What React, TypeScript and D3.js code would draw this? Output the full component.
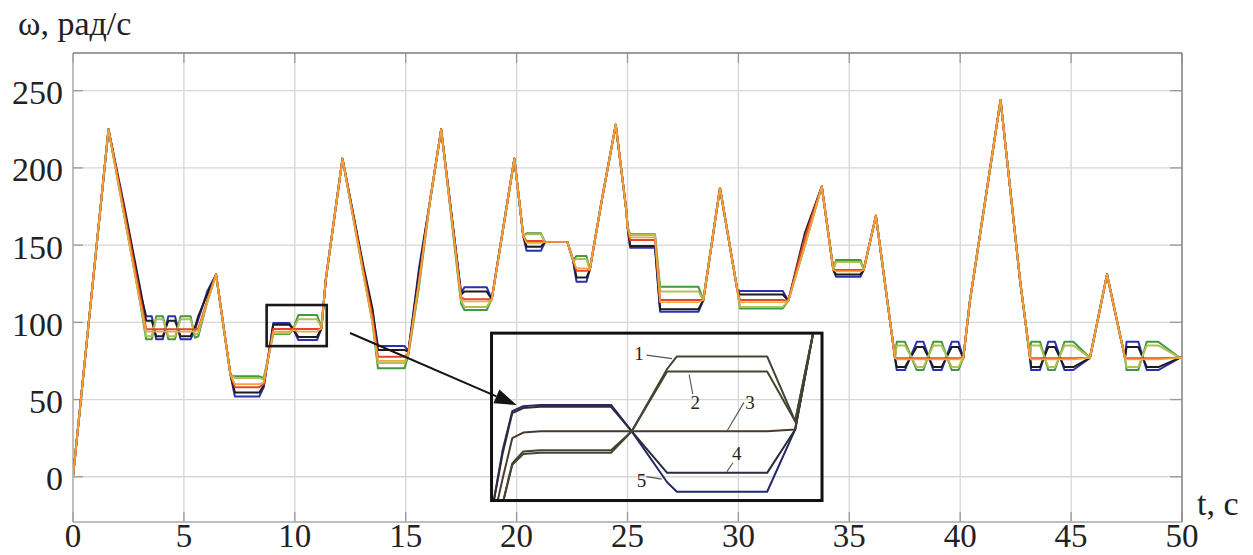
import * as d3 from 'd3';

// time points shared by all series, s
const T = [
  0, 1.6, 2.3, 3.0,
  3.3, 3.55, 3.75, 4.05, 4.3, 4.6, 4.85, 5.3, 5.5, 5.65, 6.05, 6.45,
  7.1, 7.3, 8.4, 8.6, 9.03, 9.75, 9.93, 10.16, 11.0, 11.2, 11.4, 12.15,
  13.1, 13.5, 13.75, 14.95, 15.12, 15.6, 16.1, 16.6, 17.5, 17.65, 18.65, 18.88, 19.9,
  20.3, 20.45, 21.1, 21.28, 22.29, 22.55, 22.7, 23.15, 23.3, 23.84, 24.47, 24.95,
  25.0, 25.12, 26.24, 26.47, 28.2, 28.42, 29.17, 29.95, 30.07, 32.0, 32.25, 33.0, 33.76,
  34.28, 34.4, 35.5, 35.65, 36.2, 37.06,
  37.14, 37.51, 38.04, 38.34, 38.79, 39.16, 39.62, 39.92, 40.14,
  40.44, 41.82, 42.7, 43.15, 43.2, 43.6, 43.97, 44.27, 44.7, 45.1, 45.85, 46.62, 47.43,
  47.5, 48.03, 48.41, 48.93, 49.9, 50,
];

// ω, rad/s — curve 1 (green)
const GREEN = [
  0, 225, 170, 115,
  89, 89, 104, 104, 89, 89, 104, 104, 90, 91, 113, 131,
  66, 65, 65, 64, 92.4, 92.4, 95.6, 104.7, 104.7, 97, 128, 206,
  131, 100, 70.2, 70.2, 79, 123, 179, 225, 112, 108, 108, 115, 206,
  156, 157.6, 157.6, 152, 152, 140, 143, 143, 134, 179, 228, 172,
  162, 157, 157, 123, 123, 114.4, 187, 121, 109, 109, 114, 150, 188,
  134, 140.4, 140.4, 134, 169, 77,
  87.4, 87.4, 69.1, 69.1, 87.4, 87.4, 69.1, 69.1, 77,
  114, 244, 127, 77, 87.4, 87.4, 69.1, 69.1, 87.4, 87.4, 77, 131, 77,
  69.1, 69.1, 87.4, 87.4, 77, 77,
];

// curve 2 (olive)
const OLIVE = [
  0, 225, 170, 116,
  91, 91, 102, 102, 91, 91, 102, 102, 92, 93, 113, 131,
  66, 64, 64, 63, 93, 93, 95.6, 102, 102, 97, 128, 206,
  131, 101, 73.6, 73.6, 79, 125, 179, 225, 114, 110, 110, 115, 206,
  156, 157, 157, 152, 152, 140, 141, 141, 134, 179, 228, 172,
  162, 156.5, 156.5, 120, 120, 114.4, 187, 121, 110, 110, 114, 150, 188,
  134, 139, 139, 134, 169, 77,
  85, 85, 71, 71, 85, 85, 71, 71, 77,
  114, 244, 127, 77, 85, 85, 71, 71, 85, 85, 77, 131, 77,
  71, 71, 85, 85, 77, 77,
];

// curve 3 (red)
const RED = [
  0, 225, 173, 119,
  95.5, 95.5, 95.5, 95.5, 95.5, 95.5, 95.5, 95.5, 95.5, 96, 114, 131,
  66, 58, 58, 60, 95.6, 95.6, 95.6, 95.6, 95.6, 96, 128, 206,
  133, 104, 77.7, 77.7, 80, 127, 179, 225, 116, 115, 115, 115, 206,
  156, 152.7, 152.7, 152, 152, 140, 133.4, 133.4, 134, 179, 228, 172,
  162, 153.3, 153.3, 114.4, 114.4, 114.4, 187, 121, 114.4, 114.4, 114, 155, 188,
  134, 133.9, 133.9, 134, 169, 77,
  76.7, 76.7, 76.7, 76.7, 76.7, 76.7, 76.7, 76.7, 77,
  114, 244, 127, 77, 76.7, 76.7, 76.7, 76.7, 76.7, 76.7, 77, 131, 77,
  76.7, 76.7, 76.7, 76.7, 77, 77,
];

// curve 4 (black)
const BLACK = [
  0, 225, 176, 124,
  101, 101, 91, 91, 101, 101, 91, 91, 97, 104, 118, 131,
  66, 54.5, 54.5, 59, 98.5, 98.5, 95.6, 90.5, 90.5, 96, 128, 206,
  136, 109, 82, 82, 81, 132, 179, 225, 118, 120, 120, 115, 206,
  156, 149, 149, 152, 152, 140, 129, 129, 134, 179, 228, 172,
  162, 149.5, 149.5, 108.5, 108.5, 114.4, 187, 121, 118, 118, 114, 158, 188,
  134, 131, 131, 134, 169, 77,
  71, 71, 84, 84, 71, 71, 84, 84, 77,
  114, 244, 127, 77, 71, 71, 84, 84, 71, 71, 77, 131, 77,
  84, 84, 71, 71, 77, 77,
];

// curve 5 (blue)
const BLUE = [
  0, 225, 172, 121,
  104, 104, 89, 89, 104, 104, 89, 89, 95, 102, 120, 131,
  66, 52, 52, 58, 99.5, 99.5, 95.6, 88.5, 88.5, 96, 128, 206,
  134, 107, 84.6, 84.6, 81, 135, 179, 225, 119, 122.7, 122.7, 115, 206,
  156, 146.4, 146.4, 152, 152, 140, 126.3, 126.3, 134, 179, 228, 172,
  162, 148.3, 148.3, 106.9, 106.9, 114.4, 187, 121, 120.3, 120.3, 114, 153, 188,
  134, 129.5, 129.5, 134, 169, 77,
  69.1, 69.1, 87.4, 87.4, 69.1, 69.1, 87.4, 87.4, 77,
  114, 244, 127, 77, 69.1, 69.1, 87.4, 87.4, 69.1, 69.1, 77, 131, 77,
  87.4, 87.4, 69.1, 69.1, 77, 77,
];

// reference speed (orange)
const REF = [
  0, 225, 170, 115,
  94, 94, 94, 94, 94, 94, 94, 94, 94, 95, 113, 131,
  66, 60, 60, 61, 94, 94, 95, 94, 94, 96, 128, 206,
  131, 100, 75, 75, 80, 126, 179, 225, 115, 113.5, 113.5, 114.5, 206,
  156, 151.5, 151.5, 152, 152, 140, 135, 135, 134, 179, 228, 172,
  162, 155, 155, 113, 113, 114.4, 187, 121, 113, 113, 114, 150, 188,
  134, 133, 133, 134, 169, 77,
  76, 76, 76, 76, 76, 76, 76, 76, 77,
  114, 244, 127, 77, 76, 76, 76, 76, 76, 76, 77, 131, 77,
  76, 76, 76, 76, 77, 77,
];

// zoomed fragment (inset), same units
const ZOOM_T = [8.73, 11.44];
const ZOOM_W = [84.6, 111.2];
const INSET_T = [8.75, 8.82, 8.9, 8.99, 9.13, 9.71, 9.88, 10.17, 10.25, 10.99, 11.22, 11.37];
const INSET_1 = [80, 84, 90.5, 92.4, 92.6, 92.6, 95.6, 105.5, 107.5, 107.5, 97.2, 111.5];
const INSET_2 = [80, 84, 90.3, 92.0, 92.2, 92.2, 95.6, 105.1, 105.1, 105.1, 97.2, 111.5];
const INSET_3 = [82, 88, 94.5, 95.4, 95.6, 95.6, 95.6, 95.6, 95.6, 95.6, 95.9, 111.5];
const INSET_4 = [84.7, 92, 98.5, 99.3, 99.5, 99.5, 95.6, 89, 89, 89, 95.9, 111.5];
const INSET_5 = [84.7, 92.5, 98.8, 99.6, 99.8, 99.8, 95.6, 87.5, 86, 86, 95.9, 111.5];

const LABELS = ['1', '2', '3', '4', '5'];
const LABEL_T = [9.94, 10.4, 10.85, 10.74, 9.96];
const LABEL_W = [107.0, 99.1, 99.1, 91.1, 86.8];
const LEADER_T0 = [10.0, 10.35, 10.8, 10.71, 10.0];
const LEADER_W0 = [107.7, 104.6, 100.2, 90.6, 88.4];
const LEADER_T1 = [10.21, 10.38, 10.66, 10.66, 10.125];
const LEADER_W1 = [107.15, 101.5, 95.6, 89.2, 88.0];

const X_TICKS = [0, 5, 10, 15, 20, 25, 30, 35, 40, 45, 50];
const Y_TICKS = [0, 50, 100, 150, 200, 250];

const W = 1253;
const H = 555;
const left = 73, right = 1182, top = 53, bottom = 522;
const serif = "'Liberation Serif', 'DejaVu Serif', serif";

export default function App() {
  const x = d3.scaleLinear().domain([0, 50]).range([left, right]);
  const y = d3.scaleLinear().domain([-29.3, 274.4]).range([bottom, top]);

  const line = d3.line<number>()
    .x((_, i) => x(T[i]))
    .y(d => y(d));

  const series = [
    { key: 'blue', values: BLUE, color: '#2c2fb0' },
    { key: 'black', values: BLACK, color: '#1c1c1c' },
    { key: 'green', values: GREEN, color: '#3f9a3c' },
    { key: 'olive', values: OLIVE, color: '#b2bf52' },
    { key: 'red', values: RED, color: '#e8432c' },
    { key: 'ref', values: REF, color: '#f2a53a' },
  ];

  // inset placement in main-chart units
  const ix = d3.scaleLinear().domain(ZOOM_T).range([x(18.87), x(33.77)]);
  const iy = d3.scaleLinear().domain(ZOOM_W).range([y(-15.4), y(93.0)]);
  const iline = d3.line<number>()
    .x((_, i) => ix(INSET_T[i]))
    .y(d => iy(d));
  const inset = [
    { key: 'i5', values: INSET_5, color: '#26286a' },
    { key: 'i4', values: INSET_4, color: '#2c2c3a' },
    { key: 'i3', values: INSET_3, color: '#4a3a2c' },
    { key: 'i2', values: INSET_2, color: '#3e4a2c' },
    { key: 'i1', values: INSET_1, color: '#444436' },
  ];

  // arrow from zoom box to inset
  const ax0 = x(12.49), ay0 = y(93.1), ax1 = x(20.0), ay1 = y(46.4);
  const ang = Math.atan2(ay1 - ay0, ax1 - ax0);
  const hl = 22, hw = 7.5;
  const bx = ax1 - hl * Math.cos(ang), by = ay1 - hl * Math.sin(ang);
  const head = [
    [ax1, ay1],
    [bx + hw * Math.sin(ang), by - hw * Math.cos(ang)],
    [bx - hw * Math.sin(ang), by + hw * Math.cos(ang)],
  ].map(p => p.join(',')).join(' ');

  const txt = { fontFamily: serif, fill: '#222' };

  return (
    <svg width={W} height={H} style={{ position: 'absolute', left: 0, top: 0, background: '#fff' }}>
      <defs>
        <clipPath id="plot">
          <rect x={left} y={top} width={right - left} height={bottom - top} />
        </clipPath>
        <clipPath id="inset">
          <rect x={ix(ZOOM_T[0])} y={iy(ZOOM_W[1])} width={ix(ZOOM_T[1]) - ix(ZOOM_T[0])} height={iy(ZOOM_W[0]) - iy(ZOOM_W[1])} />
        </clipPath>
      </defs>

      {/* grid */}
      {X_TICKS.map(t => (
        <line key={'gx' + t} x1={x(t)} x2={x(t)} y1={top} y2={bottom} stroke="#d6d6d6" strokeWidth={1.3} />
      ))}
      {Y_TICKS.map(v => (
        <line key={'gy' + v} x1={left} x2={right} y1={y(v)} y2={y(v)} stroke="#d6d6d6" strokeWidth={1.3} />
      ))}
      {/* inward ticks */}
      {Y_TICKS.map(v => (
        <g key={'ty' + v} stroke="#9a9a9a" strokeWidth={1.3}>
          <line x1={left} x2={left + 10} y1={y(v)} y2={y(v)} />
          <line x1={right - 12} x2={right} y1={y(v)} y2={y(v)} />
        </g>
      ))}
      {X_TICKS.map(t => (
        <g key={'tx' + t} stroke="#9a9a9a" strokeWidth={1.3}>
          <line x1={x(t)} x2={x(t)} y1={top} y2={top + 10} />
          <line x1={x(t)} x2={x(t)} y1={bottom - 10} y2={bottom} />
        </g>
      ))}
      <line x1={left} x2={right} y1={top} y2={top} stroke="#7c7c7c" strokeWidth={1.5} />
      <line x1={right} x2={right} y1={top} y2={bottom} stroke="#8a8a8a" strokeWidth={1.5} />
      <line x1={left} x2={left} y1={top} y2={bottom} stroke="#a8a8a8" strokeWidth={1.3} />
      <line x1={left} x2={right} y1={bottom} y2={bottom} stroke="#a8a8a8" strokeWidth={1.3} />

      {/* curves */}
      <g clipPath="url(#plot)" fill="none" strokeLinejoin="round">
        {series.map(s => (
          <path key={s.key} d={line(s.values) || ''} stroke={s.color} strokeWidth={s.key === 'ref' ? 1.7 : 2} />
        ))}
      </g>

      {/* zoom box */}
      <rect x={x(ZOOM_T[0])} y={y(ZOOM_W[1])} width={x(ZOOM_T[1]) - x(ZOOM_T[0])} height={y(ZOOM_W[0]) - y(ZOOM_W[1])}
        fill="none" stroke="#1a1a1a" strokeWidth={2.6} />

      {/* arrow */}
      <line x1={ax0} y1={ay0} x2={bx} y2={by} stroke="#151515" strokeWidth={2} />
      <polygon points={head} fill="#151515" />

      {/* inset */}
      <g clipPath="url(#inset)" fill="none" strokeLinejoin="round">
        {inset.map(s => (
          <path key={s.key} d={iline(s.values) || ''} stroke={s.color} strokeWidth={2} />
        ))}
      </g>
      <rect x={ix(ZOOM_T[0])} y={iy(ZOOM_W[1])} width={ix(ZOOM_T[1]) - ix(ZOOM_T[0])} height={iy(ZOOM_W[0]) - iy(ZOOM_W[1])}
        fill="none" stroke="#111" strokeWidth={3} />
      {LABELS.map((l, i) => (
        <g key={'lab' + l}>
          <line x1={ix(LEADER_T0[i])} y1={iy(LEADER_W0[i])} x2={ix(LEADER_T1[i])} y2={iy(LEADER_W1[i])} stroke="#555" strokeWidth={1.1} />
          <text x={ix(LABEL_T[i])} y={iy(LABEL_W[i])} textAnchor="middle" style={{ ...txt, fontSize: 19 }}>{l}</text>
        </g>
      ))}

      {/* tick labels */}
      {Y_TICKS.map(v => (
        <text key={'ly' + v} x={63} y={y(v) + 13.5} textAnchor="end" style={{ ...txt, fontSize: 34 }}>{v}</text>
      ))}
      {X_TICKS.map(t => (
        <text key={'lx' + t} x={x(t)} y={547} textAnchor="middle" style={{ ...txt, fontSize: 33 }}>{t}</text>
      ))}

      {/* axis titles */}
      <text x={18} y={35} style={{ ...txt, fontSize: 34 }}>ω, рад/с</text>
      <text x={1197} y={515} style={{ ...txt, fontSize: 34 }}>t, c</text>
    </svg>
  );
}
